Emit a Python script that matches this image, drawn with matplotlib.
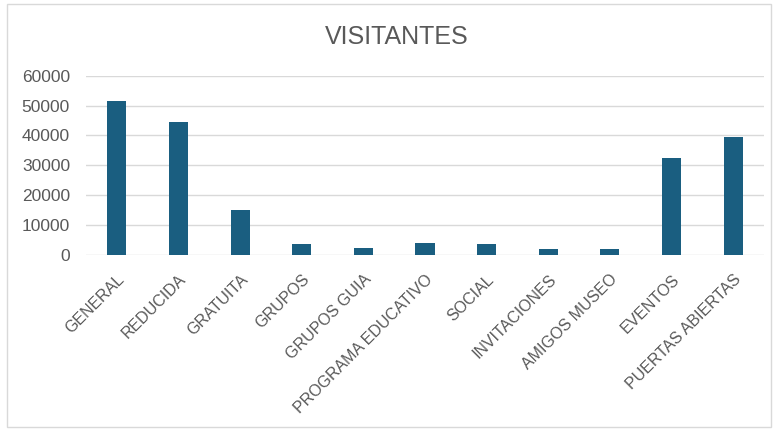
import matplotlib
matplotlib.use("Agg")
import matplotlib.pyplot as plt
from matplotlib.patches import Rectangle

# categories and values
categories = ["GENERAL", "REDUCIDA", "GRATUITA", "GRUPOS", "GRUPOS GUIA",
              "PROGRAMA EDUCATIVO", "SOCIAL", "INVITACIONES", "AMIGOS MUSEO",
              "EVENTOS", "PUERTAS ABIERTAS"]
visitantes = [51500, 44400, 15200, 3700, 2500, 4000, 3600, 2100, 2100, 32600, 39400]
y_ticks = [0, 10000, 20000, 30000, 40000, 50000, 60000]

plt.rcParams['font.family'] = ['Liberation Sans', 'DejaVu Sans']

fig = plt.figure(figsize=(7.8, 4.29), dpi=100)
ax = fig.add_axes([86 / 780, 174 / 429, 678 / 780, 179.3 / 429])

x = range(len(categories))
ax.bar(x, visitantes, width=0.31, color='#1a5e80', zorder=3)

ax.set_ylim(0, 60000)
ax.set_xlim(-0.5, len(categories) - 0.5)
ax.set_yticks(y_ticks)
ax.set_yticklabels([str(v) for v in y_ticks], fontsize=12.5, color='#595959')
ax.set_xticks(list(x))
ax.set_xticklabels(categories, rotation=45, ha='right', rotation_mode='anchor',
                   fontsize=11.5, color='#595959')
ax.tick_params(axis='both', length=0)
ax.tick_params(axis='y', pad=11.5)
ax.tick_params(axis='x', pad=12)
ax.grid(axis='y', color='#d9d9d9', linewidth=1, zorder=0)
for s in ax.spines.values():
    s.set_visible(False)

fig.text(396.5 / 780, 1 - 37 / 429, "VISITANTES", ha='center', va='center',
         fontsize=18, color='#595959')

# light frame around the whole chart
fig.patches.append(Rectangle((7 / 780, 2 / 429), 764 / 780, 423 / 429,
                             transform=fig.transFigure, fill=False,
                             edgecolor='#d9d9d9', linewidth=1))

fig.savefig("out.png", dpi=100)
